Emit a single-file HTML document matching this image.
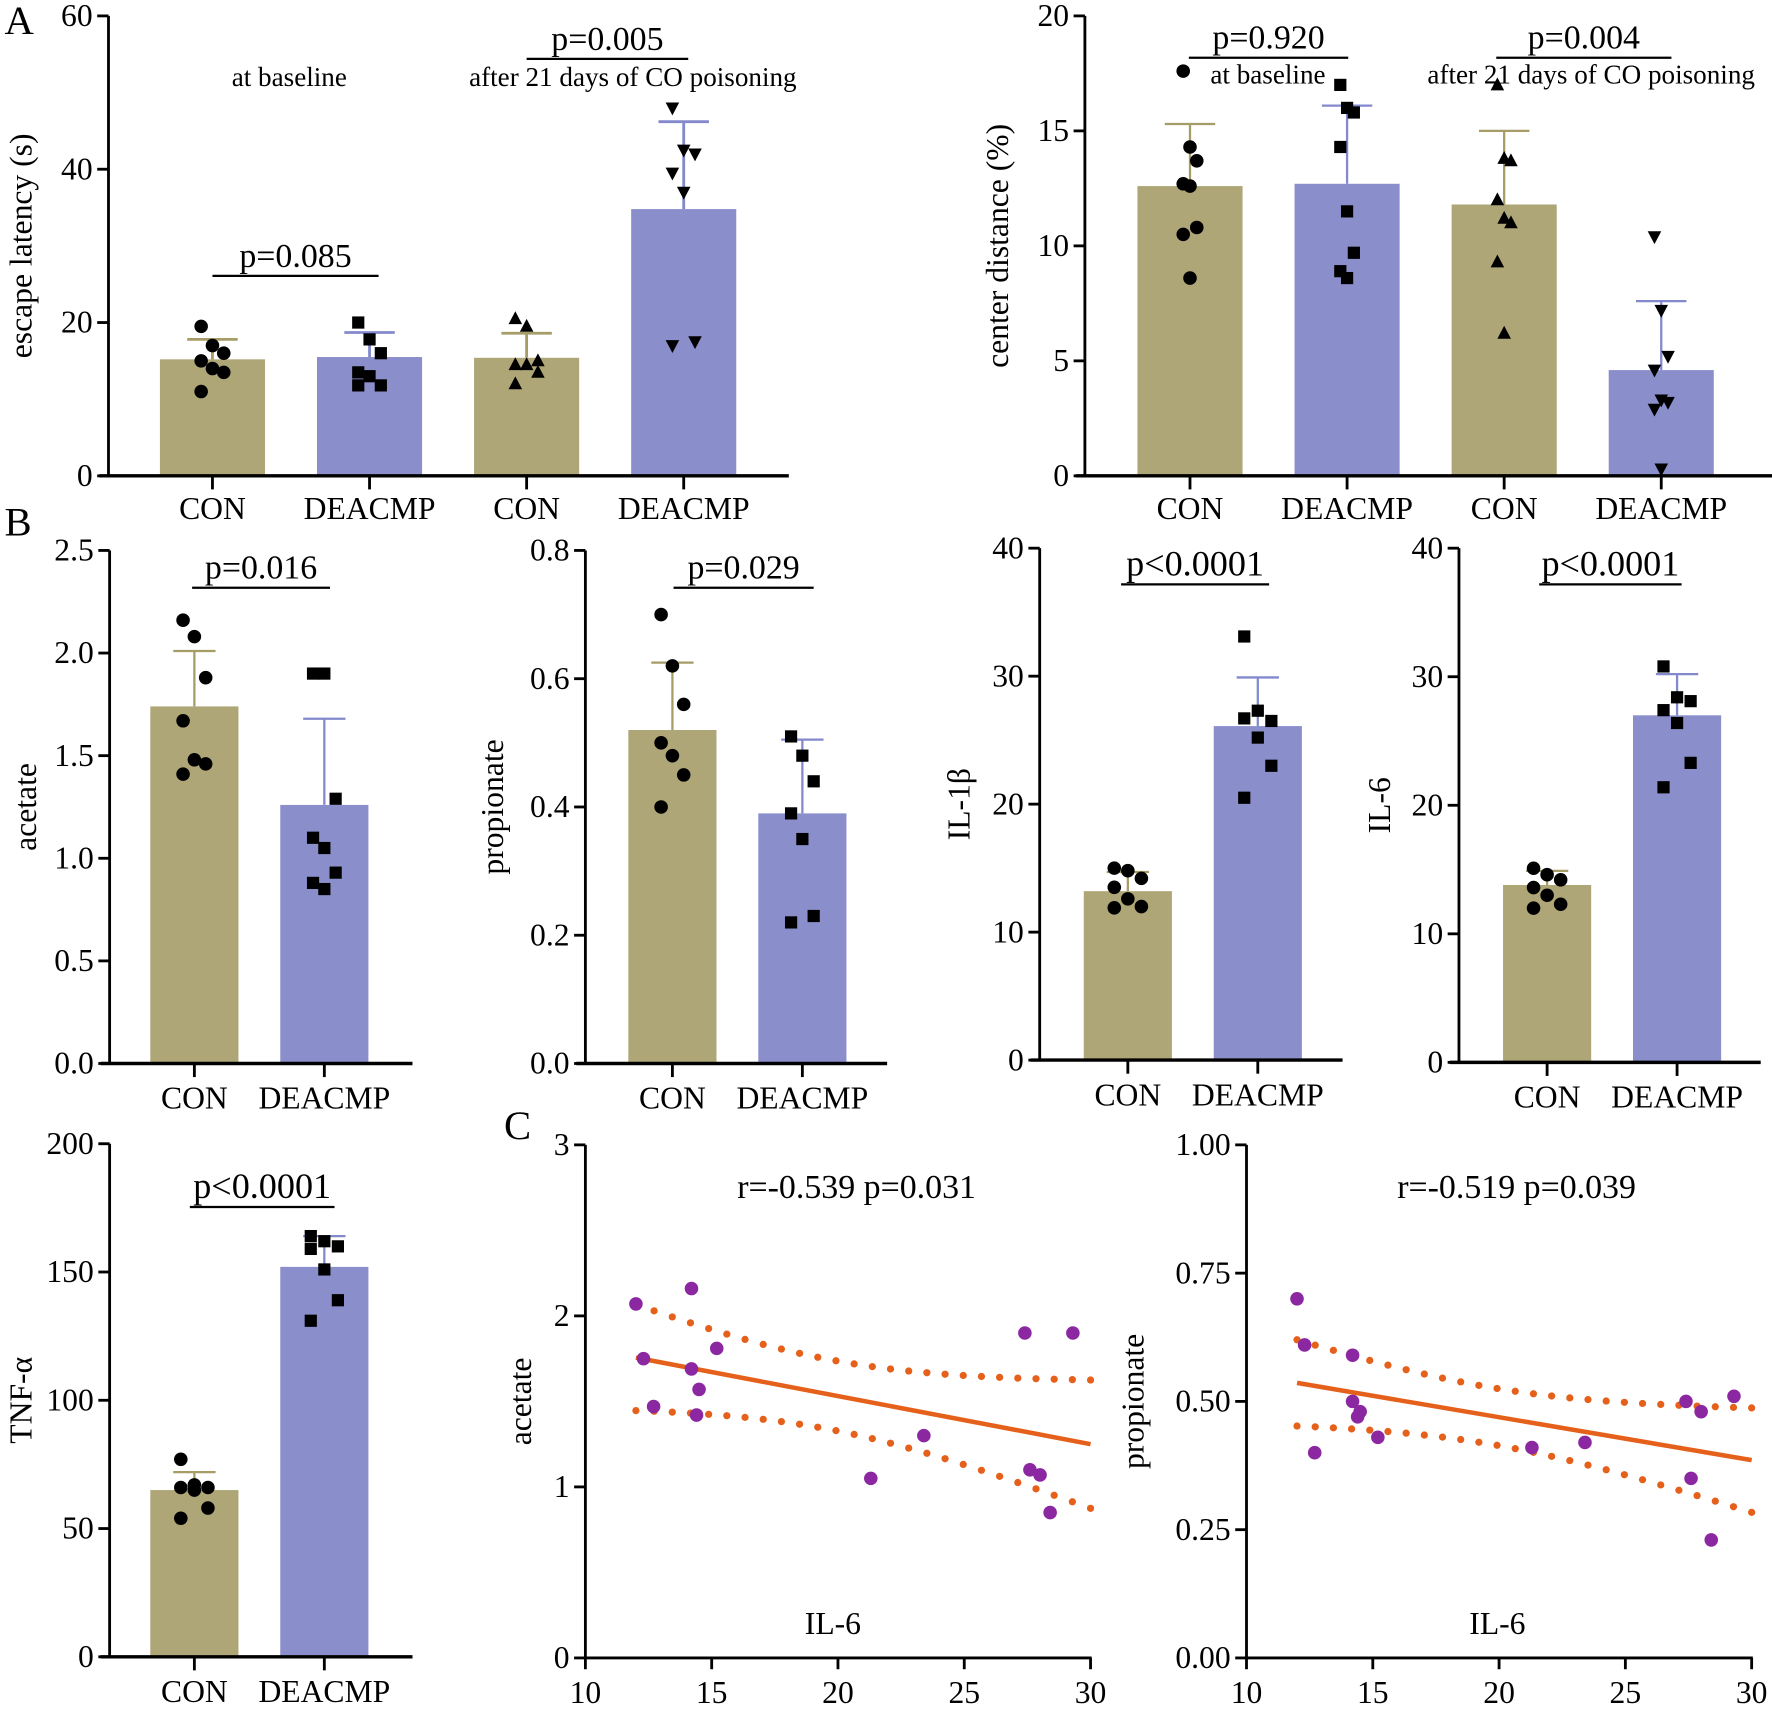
<!DOCTYPE html>
<html><head><meta charset="utf-8">
<style>
html,body{margin:0;padding:0;background:#fff;}
svg{display:block;font-family:"Liberation Serif",serif;}
</style></head>
<body>
<svg id="fig" xmlns="http://www.w3.org/2000/svg" width="1772" height="1710" viewBox="0 0 1568 1513">
<rect width="1568" height="1513" fill="#fff"/>
</svg>
<script>
// ---------- data ----------
const groupLabels = ["CON","DEACMP","CON","DEACMP"];
const escapeMeans = [15.2,15.5,15.4,34.8];
const escapeErr = [17.8,18.7,18.6,46.2];
const escapePts = [[19.5,17,16,15,14,13.5,11],[20,17.8,16,13.5,13,11.8,11.8],[20.5,19.5,15,14.5,14.5,13.5,12],[48,42.5,42,39.5,37,17.5,17]];
const centerMeans = [12.6,12.7,11.8,4.6];
const centerErr = [15.3,16.1,15.0,7.6];
const centerPts = [[17.6,14.3,13.7,12.7,12.6,10.8,10.5,8.6],[17,16,15.8,14.3,11.5,9.7,8.9,8.6],[17,13.8,13.7,12,11.2,11,9.3,6.2],[10.4,7.2,5.2,4.6,3.3,3.2,2.9,0.3]];
const twoLabels = ["CON","DEACMP"];
const acetateMeans = [1.74,1.26];
const acetateErr = [2.01,1.68];
const acetatePts = [[2.16,2.08,1.88,1.67,1.48,1.46,1.41],[1.90,1.90,1.29,1.10,1.05,0.93,0.88,0.85]];
const propMeans = [0.52,0.39];
const propErr = [0.625,0.505];
const propPts = [[0.70,0.62,0.56,0.50,0.48,0.45,0.40],[0.51,0.48,0.44,0.39,0.35,0.23,0.22]];
const il1Means = [13.2,26.1];
const il1Err = [14.7,29.9];
const il1Pts = [[15,14.8,14.2,13.5,12.6,12.0,11.9],[33.1,27.3,26.5,26.7,25.2,23.0,20.5]];
const il6Means = [13.8,27.0];
const il6Err = [14.9,30.2];
const il6Pts = [[15.1,14.6,14.2,13.6,13.0,12.3,12.0],[30.8,28.4,28.1,27.4,26.4,23.3,21.4]];
const tnfMeans = [65,152];
const tnfErr = [72,164];
const tnfPts = [[77,67,66,66,65,58,54],[164,162,160,159,151,139,131]];
const scatterIL6 = [12.0,12.3,12.7,14.2,14.2,14.5,14.4,15.2,21.3,23.4,27.4,27.6,28.0,28.4,29.3];
const scatterAcetate = [2.07,1.75,1.47,2.16,1.69,1.57,1.42,1.81,1.05,1.30,1.90,1.10,1.07,0.85,1.90];
const scatterIL6b = [12.0,12.3,12.7,14.2,14.2,14.5,14.4,15.2,21.3,23.4,27.4,27.6,28.0,28.4,29.3];
const scatterProp = [0.70,0.61,0.40,0.59,0.50,0.48,0.47,0.43,0.41,0.42,0.50,0.35,0.48,0.23,0.51];
const escapeTicks = [0,20,40,60];
const centerTicks = [0,5,10,15,20];
const acetateTicks = ["0.0","0.5","1.0","1.5","2.0","2.5"];
const propTicks = ["0.0","0.2","0.4","0.6","0.8"];
const il1Ticks = [0,10,20,30,40];
const il6Ticks = [0,10,20,30,40];
const tnfTicks = [0,50,100,150,200];
const scXTicks = [10,15,20,25,30];
const scAcTicks = [0,1,2,3];
const scPrTicks = ["0.00","0.25","0.50","0.75","1.00"];

// ---------- helpers ----------
const NS="http://www.w3.org/2000/svg";
const svg=document.getElementById('fig');
function mk(tag,attrs,parent,text){
  const e=document.createElementNS(NS,tag);
  for(const k in attrs) e.setAttribute(k,attrs[k]);
  if(text!==undefined) e.textContent=text;
  (parent||svg).appendChild(e);
  return e;
}
const OLIVE="#aea677", OLIVE_E="#a59c66", PURP="#8a8fcc", PURP_E="#8389cc";
const colors=[OLIVE,PURP,OLIVE,PURP], ecolors=[OLIVE_E,PURP_E,OLIVE_E,PURP_E];

function marker(g,type,x,y,r){
  let e;
  if(type==='c'){ e=mk('circle',{cx:x,cy:y,r:r*0.5,fill:'#000'},g); }
  else if(type==='s'){ e=mk('rect',{x:x-r*0.45,y:y-r*0.45,width:r*0.9,height:r*0.9,fill:'#000'},g); }
  else if(type==='u'){ e=mk('polygon',{points:`${x},${y-r*0.55} ${x-r*0.5},${y+r*0.4} ${x+r*0.5},${y+r*0.4}`,fill:'#000'},g); }
  else { e=mk('polygon',{points:`${x},${y+r*0.55} ${x-r*0.5},${y-r*0.4} ${x+r*0.5},${y-r*0.4}`,fill:'#000'},g); }
  
  
}

function barPanel(cfg){
  const g=mk('g',{});
  
  
  const ymax=cfg.ymax, y0=cfg.bottom, y1=cfg.top;
  const ys=v=>y0-(v/ymax)*(y0-y1);
  cfg.means.forEach((m,i)=>{
    const cx=cfg.x0+i*cfg.step;
    const b=mk('rect',{x:cx-cfg.bw/2,y:ys(m),width:cfg.bw,height:y0-ys(m),fill:cfg.colors[i]},g);
    
    
    const el=mk('path',{d:`M${cx},${ys(m)}V${ys(cfg.err[i])}M${cx-cfg.bw*0.24},${ys(cfg.err[i])}H${cx+cfg.bw*0.24}`,stroke:cfg.ecolors[i],'stroke-width':cfg.ew||2.5,fill:'none'},g);
    
    
    const pts=cfg.pts[i];
    pts.forEach((v,j)=>{
      const off=((j%3)-1)*cfg.jit;
      marker(g,cfg.marks[i],cx+off,ys(v),cfg.ms||12);
    });
    mk('line',{x1:cx,x2:cx,y1:y0,y2:y0+12,stroke:'#000','stroke-width':2.5},g);
    const t=mk('text',{x:cx,y:y0+cfg.lblOff,'text-anchor':'middle','font-size':cfg.lfs||28},g,cfg.labels[i]);
    
    
  });
  const ya=mk('line',{x1:cfg.ax,x2:cfg.ax,y1:y1,y2:y0+1.25,stroke:'#000','stroke-width':2.5},g);
  
  
  const xa=mk('line',{x1:cfg.ax-8,x2:cfg.xend,y1:y0,y2:y0,stroke:'#000','stroke-width':3},g);
  
  
  cfg.ticks.forEach((tk,i)=>{
    const v=ymax*i/(cfg.ticks.length-1);
    mk('line',{x1:cfg.ax-10,x2:cfg.ax,y1:ys(v),y2:ys(v),stroke:'#000','stroke-width':2.5},g);
    const t=mk('text',{x:cfg.ax-14,y:ys(v)+9,'text-anchor':'end','font-size':28},g,tk);
    
    
  });
  const tt=mk('text',{x:cfg.tx,y:(y0+y1)/2,'text-anchor':'middle','font-size':cfg.tfs||28,transform:`rotate(-90 ${cfg.tx} ${(y0+y1)/2})`},g,cfg.title);
  
  
  (cfg.sig||[]).forEach(s=>{
    const l=mk('line',{x1:s.x1,x2:s.x2,y1:s.y,y2:s.y,stroke:'#000','stroke-width':2},g);
    
    
    const t=mk('text',{x:(s.x1+s.x2)/2,y:s.y-8,'text-anchor':'middle','font-size':s.fs||30},g,s.text);
    
    
  });
  (cfg.notes||[]).forEach(s=>{
    const t=mk('text',{x:s.x,y:s.y,'text-anchor':'middle','font-size':24},g,s.text);
    
    
  });
}

barPanel({name:'escape-latency-chart',means:escapeMeans,err:escapeErr,pts:escapePts,labels:groupLabels,colors,ecolors,
  marks:['c','s','u','d'],ymax:60,top:14,bottom:421,ax:96,xend:698,x0:188,step:139,bw:93,jit:10,lblOff:38,
  ticks:escapeTicks,title:'escape latency (s)',tx:28,
  sig:[{x1:188,x2:335,y:244,text:'p=0.085'},{x1:466,x2:609,y:52,text:'p=0.005'}],
  notes:[{x:256,y:76,text:'at baseline'},{x:560,y:76,text:'after 21 days of CO poisoning'}]});
barPanel({name:'center-distance-chart',means:centerMeans,err:centerErr,pts:centerPts,labels:groupLabels,colors,ecolors,
  marks:['c','s','u','d'],ymax:20,top:14,bottom:421,ax:960,xend:1568,x0:1053,step:139,bw:93,jit:6,lblOff:38,ew:2,
  ticks:centerTicks,title:'center distance (%)',tx:892,
  sig:[{x1:1052,x2:1193,y:51,text:'p=0.920'},{x1:1324,x2:1479,y:51,text:'p=0.004'}],
  notes:[{x:1122,y:74,text:'at baseline'},{x:1408,y:74,text:'after 21 days of CO poisoning'}]});
barPanel({name:'acetate-chart',means:acetateMeans,err:acetateErr,pts:acetatePts,labels:twoLabels,colors,ecolors,
  marks:['c','s'],ymax:2.5,top:487,bottom:941,ax:97,xend:365,x0:172,step:115,bw:78,jit:10,lblOff:40,ew:2,
  ticks:acetateTicks,title:'acetate',tx:32,sig:[{x1:170,x2:292,y:520,text:'p=0.016'}]});
barPanel({name:'propionate-chart',means:propMeans,err:propErr,pts:propPts,labels:twoLabels,colors,ecolors,
  marks:['c','s'],ymax:0.8,top:487,bottom:941,ax:518,xend:785,x0:595,step:115,bw:78,jit:10,lblOff:40,ew:2,
  ticks:propTicks,title:'propionate',tx:445,sig:[{x1:596,x2:720,y:520,text:'p=0.029'}]});
barPanel({name:'il1b-chart',means:il1Means,err:il1Err,pts:il1Pts,labels:twoLabels,colors,ecolors,
  marks:['c','s'],ymax:40,top:485,bottom:938,ax:920,xend:1188,x0:998,step:115,bw:78,jit:12,lblOff:40,ew:2,
  ticks:il1Ticks,title:'IL-1β',tx:858,sig:[{x1:992,x2:1123,y:517,text:'p<0.0001',fs:32}]});
barPanel({name:'il6-chart',means:il6Means,err:il6Err,pts:il6Pts,labels:twoLabels,colors,ecolors,
  marks:['c','s'],ymax:40,top:485,bottom:940,ax:1291,xend:1558,x0:1369,step:115,bw:78,jit:12,lblOff:40,ew:2,
  ticks:il6Ticks,title:'IL-6',tx:1230,sig:[{x1:1362,x2:1488,y:517,text:'p<0.0001',fs:32}]});
barPanel({name:'tnf-alpha-chart',means:tnfMeans,err:tnfErr,pts:tnfPts,labels:twoLabels,colors,ecolors,
  marks:['c','s'],ymax:200,top:1012,bottom:1466,ax:97,xend:365,x0:172,step:115,bw:78,jit:12,lblOff:40,ew:2,
  ticks:tnfTicks,title:'TNF-α',tx:28,sig:[{x1:168,x2:296,y:1068,text:'p<0.0001',fs:32}]});

function scatter(cfg){
  const g=mk('g',{});
  
  
  const xs=v=>cfg.ax+(v-10)/20*(cfg.xend-cfg.ax);
  const ys=v=>cfg.bottom-(v/cfg.ymax)*(cfg.bottom-cfg.top);
  const X=cfg.xd,Y=cfg.yd,n=X.length;
  const mx=X.reduce((a,b)=>a+b)/n,my=Y.reduce((a,b)=>a+b)/n;
  let sxx=0,sxy=0;X.forEach((x,i)=>{sxx+=(x-mx)**2;sxy+=(x-mx)*(Y[i]-my);});
  const b=sxy/sxx,a=my-b*mx;
  let sse=0;X.forEach((x,i)=>{sse+=(Y[i]-a-b*x)**2;});
  const s=Math.sqrt(sse/(n-2)),t=2.16;
  const xmin=Math.min(...X),xmax=30;
  const ci=(x,sg)=>a+b*x+sg*t*s*Math.sqrt(1/n+(x-mx)**2/sxx);
  [1,-1].forEach(sg=>{
    for(let k=0;k<=25;k++){
      const x=xmin+(xmax-xmin)*k/25;
      const d=mk('circle',{cx:xs(x),cy:ys(ci(x,sg)),r:3.2,fill:'#e5601a'},g);
      
      
    }
  });
  const fl=mk('line',{x1:xs(xmin),y1:ys(a+b*xmin),x2:xs(xmax),y2:ys(a+b*xmax),stroke:'#e5601a','stroke-width':4},g);
  
  
  X.forEach((x,i)=>{
    const p=mk('circle',{cx:xs(x),cy:ys(Y[i]),r:6,fill:'#8b27a0'},g);
    
    
  });
  const ya=mk('line',{x1:cfg.ax,x2:cfg.ax,y1:cfg.top,y2:cfg.bottom+1,stroke:'#000','stroke-width':2.5},g);
  
  
  const xa=mk('line',{x1:cfg.ax,x2:cfg.xend+1,y1:cfg.bottom,y2:cfg.bottom,stroke:'#000','stroke-width':2.5},g);
  
  
  cfg.yt.forEach((tk,i)=>{
    const v=cfg.ymax*i/(cfg.yt.length-1);
    mk('line',{x1:cfg.ax-10,x2:cfg.ax,y1:ys(v),y2:ys(v),stroke:'#000','stroke-width':2.5},g);
    const tx=mk('text',{x:cfg.ax-14,y:ys(v)+9,'text-anchor':'end','font-size':28},g,tk);
    
    
  });
  scXTicks.forEach(v=>{
    mk('line',{x1:xs(v),x2:xs(v),y1:cfg.bottom,y2:cfg.bottom+10,stroke:'#000','stroke-width':2.5},g);
    const tx=mk('text',{x:xs(v),y:cfg.bottom+40,'text-anchor':'middle','font-size':28},g,v);
    
    
  });
  const tt=mk('text',{x:cfg.tx,y:(cfg.top+cfg.bottom)/2,'text-anchor':'middle','font-size':28,transform:`rotate(-90 ${cfg.tx} ${(cfg.top+cfg.bottom)/2})`},g,cfg.title);
  
  
  const xt=mk('text',{x:cfg.xlx,y:1446,'text-anchor':'middle','font-size':28},g,'IL-6');
  
  
  const st=mk('text',{x:cfg.stx,y:1060,'text-anchor':'middle','font-size':30},g,cfg.stat);
  
  
}
scatter({name:'acetate-vs-il6-scatter',xd:scatterIL6,yd:scatterAcetate,ymax:3,top:1013,bottom:1467,ax:518,xend:965,
  yt:scAcTicks,title:'acetate',tx:470,xlx:737,stx:758,stat:'r=-0.539 p=0.031'});
scatter({name:'propionate-vs-il6-scatter',xd:scatterIL6b,yd:scatterProp,ymax:1,top:1013,bottom:1467,ax:1103,xend:1550,
  yt:scPrTicks,title:'propionate',tx:1012,xlx:1325,stx:1342,stat:'r=-0.519 p=0.039'});

[['A',4,30],['B',4,474],['C',446,1008]].forEach(([l,x,y])=>{
  const t=mk('text',{x:x,y:y,'font-size':36},svg,l);
  
  
});
</script>
</body></html>
